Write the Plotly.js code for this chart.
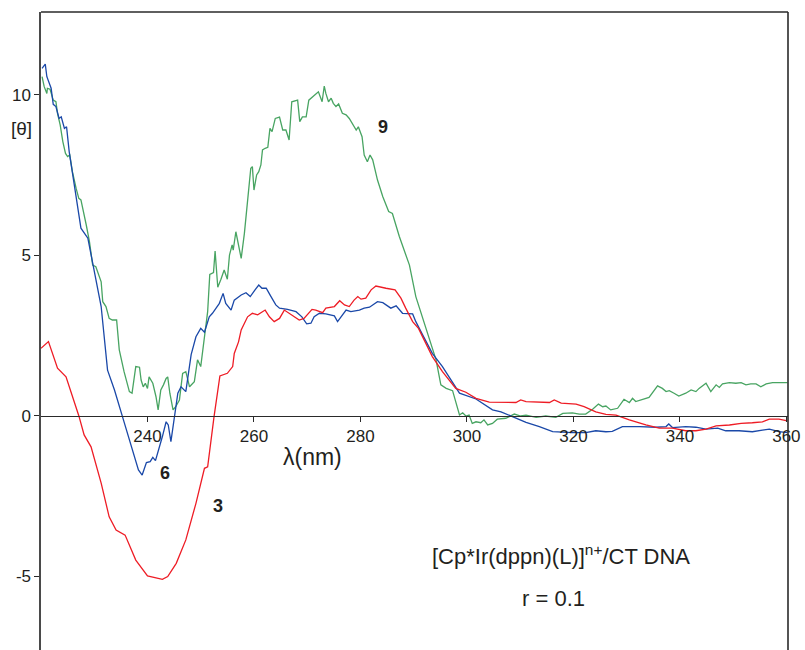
<!DOCTYPE html>
<html>
<head>
<meta charset="utf-8">
<script src="https://cdn.plot.ly/plotly-3.0.1.min.js"></script>
<style>html,body{margin:0;padding:0;background:#fff;}</style>
</head>
<body>
<div id="chart" style="width:805px;height:650px;"></div>
<script>
// Complex 9 (green)
const wl9 = [220.2,220.6,221.1,221.2,221.7,222.3,222.8,223.1,223.6,224.1,224.6,225.0,225.4,225.9,226.6,227.1,227.5,228.1,228.5,229.1,229.7,230.3,231.3,231.6,232.2,232.8,233.4,234.2,234.7,235.6,236.6,237.1,237.4,237.8,238.5,238.8,239.2,239.6,240.0,240.3,241.0,241.6,242.0,242.5,243.0,243.5,243.8,244.2,244.8,245.3,246.0,246.6,247.2,247.9,248.8,249.4,250.0,250.7,251.3,251.7,252.4,252.7,253.2,253.8,254.4,255.0,255.4,255.9,256.1,256.6,257.1,257.6,258.2,258.8,259.4,259.7,260.0,260.5,260.9,261.3,261.6,262.1,262.6,263.0,263.4,264.0,264.8,265.4,266.0,266.6,267.1,268.2,268.6,269.1,269.8,270.3,271.0,271.6,272.1,272.8,273.2,273.5,274.0,274.5,274.9,275.4,275.9,276.6,277.3,277.9,278.5,279.2,279.6,280.3,280.7,281.3,281.8,282.3,283.2,284.2,285.3,286.0,287.3,289.2,290.4,291.7,292.9,294.2,295.1,296.1,297.3,297.9,298.6,299.2,299.8,300.4,301.0,301.7,302.6,303.2,303.9,304.8,305.7,307.3,308.9,310.1,311.1,313.0,314.8,316.7,318.0,319.8,321.1,322.3,323.6,324.7,325.5,326.1,327.0,328.3,329.5,330.5,331.1,331.7,333.0,334.2,335.8,336.7,337.4,338.0,338.9,339.8,341.1,342.1,343.0,343.6,344.9,345.8,346.8,347.4,348.0,349.3,350.5,351.5,352.4,353.3,354.3,355.2,356.2,357.4,360.2];
const theta9 = [10.56,10.25,10.04,10.20,10.17,9.83,9.78,9.42,9.06,8.54,8.17,8.07,8.12,7.60,7.08,6.77,6.72,6.31,5.94,5.42,4.69,4.64,4.17,3.55,3.40,3.03,2.98,2.98,2.05,1.37,0.75,0.70,1.01,1.53,1.51,1.11,0.90,1.01,0.85,1.21,1.01,0.59,0.18,0.80,0.96,1.16,1.21,0.70,0.18,0.28,0.49,1.32,1.37,0.90,1.06,1.74,1.53,2.41,3.24,4.40,4.46,5.13,4.00,4.25,4.54,4.25,5.00,5.32,5.16,5.73,5.32,4.90,5.68,6.62,7.71,7.76,7.03,7.50,7.60,7.81,8.28,8.33,8.36,8.95,8.85,9.26,9.30,8.90,8.90,8.59,9.78,9.83,9.16,9.31,9.31,9.83,9.94,10.04,10.09,9.78,10.27,10.04,9.78,9.89,9.73,9.63,9.71,9.42,9.37,9.26,9.11,8.90,9.00,8.69,8.12,7.91,8.12,7.97,7.34,6.82,6.36,6.30,5.58,4.69,3.71,3.03,2.46,1.74,0.96,0.85,0.78,0.39,0.02,0.09,-0.01,0.02,-0.24,-0.19,-0.22,-0.13,-0.29,-0.24,-0.11,-0.08,0.05,-0.01,0.02,-0.05,-0.01,-0.05,0.07,0.09,0.05,0.05,0.20,0.36,0.28,0.30,0.18,0.23,0.51,0.41,0.54,0.44,0.51,0.57,0.93,0.85,0.75,0.78,0.70,0.61,0.70,0.80,0.75,0.85,1.01,0.75,0.96,0.88,0.99,1.03,1.01,1.03,0.96,0.99,0.99,0.90,0.99,1.03,1.03];

// Complex 6 (blue)
const wl6 = [220.2,220.8,221.1,221.9,222.3,222.8,223.4,223.8,224.4,224.8,225.3,226.6,227.5,228.8,229.4,229.7,231.3,232.5,233.8,235.3,236.6,237.5,238.3,239.0,239.8,240.5,241.0,241.5,242.1,242.8,243.5,243.9,244.4,245.0,245.7,246.3,247.2,248.2,249.1,250.0,250.7,251.6,252.2,253.5,254.2,254.7,255.7,256.3,257.6,258.5,259.3,260.2,260.9,261.5,262.3,263.2,264.1,264.8,266.3,267.9,269.0,269.9,270.7,271.3,272.3,273.5,275.1,275.7,277.3,278.2,279.8,280.7,281.7,282.3,283.2,284.2,285.7,286.7,287.9,289.8,290.4,291.7,293.5,295.4,298.6,301.7,304.8,306.4,309.2,311.1,313.6,316.1,319.8,322.3,324.2,326.1,327.3,329.2,332.4,335.5,337.4,337.9,338.6,341.1,343.0,344.9,347.1,348.6,351.1,353.6,355.5,356.8,358.6,360.2];
const theta6 = [10.82,10.95,10.56,10.20,9.70,9.63,9.26,9.31,8.95,9.00,8.22,6.88,5.84,5.53,5.00,4.75,3.40,1.42,0.80,-0.03,-0.76,-1.28,-1.69,-1.85,-1.46,-1.43,-1.30,-1.40,-1.07,-0.65,-0.19,-0.29,-0.81,-0.03,0.70,0.90,0.75,1.90,2.46,2.72,2.60,3.08,3.19,3.50,3.81,3.50,3.29,3.60,3.76,3.83,3.71,3.92,4.07,3.97,3.97,3.71,3.45,3.35,3.31,3.24,3.08,2.86,2.88,3.08,3.19,3.17,3.11,2.93,3.29,3.24,3.29,3.35,3.38,3.45,3.55,3.52,3.35,3.42,3.19,3.17,2.93,2.51,1.94,1.53,0.70,0.52,0.18,0.12,-0.08,-0.21,-0.34,-0.50,-0.53,-0.53,-0.47,-0.50,-0.49,-0.34,-0.34,-0.36,-0.34,-0.26,-0.37,-0.34,-0.36,-0.42,-0.39,-0.47,-0.47,-0.50,-0.45,-0.42,-0.50,-0.53];

// Complex 3 (red)
const wl3 = [220.0,221.4,223.1,224.7,227.1,228.1,229.4,231.3,232.8,234.1,235.8,237.8,240.0,242.8,243.8,245.4,247.2,249.1,250.7,251.3,252.5,253.6,255.0,256.0,256.3,257.1,257.6,258.8,259.7,260.7,262.1,262.9,263.8,264.8,265.7,266.6,268.5,269.4,270.9,271.6,272.9,273.5,275.1,276.1,277.0,277.9,278.8,279.5,280.1,281.0,282.0,282.9,283.8,284.8,286.5,287.6,288.5,289.8,290.9,292.3,293.5,295.4,297.9,299.8,301.7,304.2,309.2,310.1,311.1,315.5,316.4,317.7,320.5,322.0,324.2,326.1,328.0,330.5,333.6,336.1,338.6,341.1,343.0,344.9,346.8,349.3,351.5,353.6,355.5,356.8,358.6,360.2];
const theta3 = [2.10,2.31,1.48,1.21,0.00,-0.60,-0.97,-2.10,-3.15,-3.56,-3.72,-4.50,-4.99,-5.10,-5.01,-4.60,-3.87,-2.73,-1.64,-1.59,-0.03,1.24,1.32,1.53,1.94,2.30,2.67,3.08,3.19,3.14,3.29,3.08,2.93,3.03,3.29,3.19,2.98,3.03,3.31,3.29,3.21,3.35,3.40,3.58,3.45,3.40,3.60,3.71,3.63,3.66,3.92,4.04,4.00,3.97,3.92,3.66,3.35,2.93,2.72,2.26,1.84,1.37,0.85,0.73,0.54,0.42,0.41,0.49,0.44,0.41,0.49,0.39,0.36,0.28,0.12,0.04,0.02,-0.13,-0.29,-0.39,-0.39,-0.47,-0.47,-0.42,-0.32,-0.29,-0.24,-0.22,-0.19,-0.11,-0.11,-0.16];

const xTicks = [240, 260, 280, 300, 320, 340, 360];
const yTicks = [-5, 0, 5, 10];
const seriesLabels = ['9', '6', '3'];

const FONT = 'Liberation Sans, Arial, Helvetica, sans-serif';
const yMin = -7.30, yMax = 12.576;

const traces = [
  {x: wl9, y: theta9, mode: 'lines', line: {color: '#48a462', width: 1.3}, hoverinfo: 'skip'},
  {x: wl6, y: theta6, mode: 'lines', line: {color: '#1a48a8', width: 1.3}, hoverinfo: 'skip'},
  {x: wl3, y: theta3, mode: 'lines', line: {color: '#ee1c25', width: 1.3}, hoverinfo: 'skip'}
];

const layout = {
  width: 805, height: 650,
  margin: {l: 41, r: 17, t: 12, b: 0, pad: 0},
  paper_bgcolor: '#fff', plot_bgcolor: '#fff',
  showlegend: false,
  font: {family: FONT, color: '#231f20'},
  xaxis: {
    range: [220, 360.3], anchor: 'free', position: (0 - yMin) / (yMax - yMin),
    showline: true, linecolor: '#2a2a2a', linewidth: 1.3,
    ticks: 'outside', ticklen: 5, tickwidth: 1, tickcolor: '#2a2a2a',
    tickvals: xTicks, ticktext: xTicks.map(String),
    tickfont: {size: 17, family: FONT, color: '#231f20'},
    showgrid: false, zeroline: false
  },
  yaxis: {
    range: [yMin, yMax],
    showline: true, linecolor: '#4a4a4a', linewidth: 1.6,
    ticks: 'outside', ticklen: 5, tickwidth: 1, tickcolor: '#2a2a2a',
    tickvals: yTicks, ticktext: yTicks.map(String),
    tickfont: {size: 17, family: FONT, color: '#231f20'},
    showgrid: false, zeroline: false
  },
  shapes: [
    {type: 'line', xref: 'paper', yref: 'paper', x0: 0, x1: 1, y0: 1, y1: 1, line: {color: '#2a2a2a', width: 1.6}},
    {type: 'line', xref: 'paper', yref: 'paper', x0: 1, x1: 1, y0: 0, y1: 1, line: {color: '#2a2a2a', width: 1.6}}
  ],
  annotations: [
    {x: 270.9, y: -1.28, xref: 'x', yref: 'y', text: 'λ(nm)', showarrow: false, xanchor: 'center', font: {size: 23, family: FONT, color: '#231f20'}},
    {x: -0.026, y: 8.96, xref: 'paper', yref: 'y', text: '[θ]', showarrow: false, xanchor: 'center', font: {size: 19, family: FONT, color: '#231f20'}},
    {x: 284.3, y: 8.99, xref: 'x', yref: 'y', text: '<b>' + seriesLabels[0] + '</b>', showarrow: false, xanchor: 'center', font: {size: 18, family: FONT, color: '#231f20'}},
    {x: 243.2, y: -1.79, xref: 'x', yref: 'y', text: '<b>' + seriesLabels[1] + '</b>', showarrow: false, xanchor: 'center', font: {size: 18, family: FONT, color: '#231f20'}},
    {x: 253.3, y: -2.81, xref: 'x', yref: 'y', text: '<b>' + seriesLabels[2] + '</b>', showarrow: false, xanchor: 'center', font: {size: 18, family: FONT, color: '#231f20'}},
    {x: 317.7, y: -4.33, xref: 'x', yref: 'y', text: '[Cp*Ir(dppn)(L)]<sup>n+</sup>/CT DNA', showarrow: false, xanchor: 'center', font: {size: 22, family: FONT, color: '#231f20'}},
    {x: 316.2, y: -5.70, xref: 'x', yref: 'y', text: 'r = 0.1', showarrow: false, xanchor: 'center', font: {size: 22, family: FONT, color: '#231f20'}}
  ]
};

Plotly.newPlot('chart', traces, layout, {displayModeBar: false, staticPlot: true});
</script>
</body>
</html>
